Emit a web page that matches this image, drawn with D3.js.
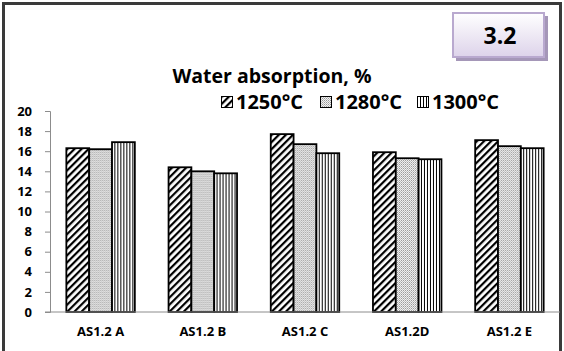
<!DOCTYPE html>
<html>
<head>
<meta charset="utf-8">
<script src="https://cdn.jsdelivr.net/npm/d3@7"></script>
<style>
  html, body { margin: 0; padding: 0; background: #fff; }
  svg { display: block; }
  text { font-family: "Open Sans", "Liberation Sans", sans-serif; font-weight: bold; fill: #000; }
</style>
</head>
<body>
<svg id="chart" width="564" height="351"></svg>
<script>
// Water absorption (%) of each sample, fired at three temperatures
const categories = ["AS1.2 A", "AS1.2 B", "AS1.2 C", "AS1.2D", "AS1.2 E"];
const seriesNames = ["1250°C", "1280°C", "1300°C"];
const values1250 = [16.3, 14.4, 17.7, 15.9, 17.1];
const values1280 = [16.2, 14.0, 16.7, 15.3, 16.5];
const values1300 = [16.9, 13.8, 15.8, 15.2, 16.3];
const yTicks = [0, 2, 4, 6, 8, 10, 12, 14, 16, 18, 20];
const chartTitle = "Water absorption, %";
const badgeText = "3.2";

const seriesValues = [values1250, values1280, values1300];
const svg = d3.select("#chart");
const defs = svg.append("defs");

// Fill patterns: diagonal hatch, fine dots, vertical stripes
const pHatch = defs.append("pattern").attr("id", "p0").attr("patternUnits", "userSpaceOnUse")
  .attr("width", 5).attr("height", 5).attr("patternTransform", "rotate(45)");
pHatch.append("rect").attr("width", 5).attr("height", 5).attr("fill", "#fff");
pHatch.append("rect").attr("width", 2.2).attr("height", 5).attr("fill", "#000");

const pDots = defs.append("pattern").attr("id", "p1").attr("patternUnits", "userSpaceOnUse")
  .attr("width", 2).attr("height", 2);
pDots.append("rect").attr("width", 2).attr("height", 2).attr("fill", "#f2f2f2");
pDots.append("rect").attr("width", 1).attr("height", 1).attr("fill", "#9a9a9a");
pDots.append("rect").attr("x", 1).attr("y", 1).attr("width", 1).attr("height", 1).attr("fill", "#bdbdbd");

const pStripes = defs.append("pattern").attr("id", "p2").attr("patternUnits", "userSpaceOnUse")
  .attr("width", 3).attr("height", 3);
pStripes.append("rect").attr("width", 3).attr("height", 3).attr("fill", "#fff");
pStripes.append("rect").attr("width", 1).attr("height", 3).attr("fill", "#000");

const badgeGrad = defs.append("linearGradient").attr("id", "badgeGrad")
  .attr("x1", 0).attr("y1", 0).attr("x2", 0).attr("y2", 1);
badgeGrad.append("stop").attr("offset", "0%").attr("stop-color", "#ffffff");
badgeGrad.append("stop").attr("offset", "100%").attr("stop-color", "#ddd3ea");

// Outer frame
svg.append("rect").attr("x", 3.5).attr("y", 3.5).attr("width", 557).attr("height", 360)
  .attr("fill", "none").attr("stroke", "#3a3a3a").attr("stroke-width", 3);

// Badge with drop shadow
svg.append("rect").attr("x", 456).attr("y", 16).attr("width", 92).attr("height", 45).attr("fill", "#a597b8");
svg.append("rect").attr("x", 453).attr("y", 13).attr("width", 91).attr("height", 44)
  .attr("fill", "url(#badgeGrad)").attr("stroke", "#b9a9cf").attr("stroke-width", 2);
svg.append("text").attr("x", 500).attr("y", 44).attr("text-anchor", "middle")
  .style("font-size", "23px").attr("fill", "#222").text(badgeText);

// Title
svg.append("text").attr("x", 272).attr("y", 83).attr("text-anchor", "middle")
  .style("font-size", "19.5px").text(chartTitle);

// Scales
const plot = { left: 50, right: 560, top: 111, bottom: 312 };
const x0 = d3.scaleBand().domain(categories).range([plot.left, plot.right])
  .paddingInner(0.33).paddingOuter(0.16);
const x1 = d3.scaleBand().domain(seriesNames).range([0, x0.bandwidth()]);
const y = d3.scaleLinear().domain([0, 20]).range([plot.bottom, plot.top]);

// Y axis
const yAxis = svg.append("g").attr("transform", `translate(${plot.left},0)`)
  .call(d3.axisLeft(y).tickValues(yTicks).tickSize(5).tickPadding(13));
yAxis.select(".domain").attr("stroke", "#8c8c8c");
yAxis.selectAll(".tick line").attr("stroke", "#8c8c8c");
yAxis.selectAll(".tick text").style("font-size", "13px").style("font-family", "\"Open Sans\", sans-serif")
  .style("font-weight", "bold").attr("fill", "#000");

// Bars
const groups = svg.append("g").selectAll("g").data(categories).join("g")
  .attr("transform", d => `translate(${x0(d)},0)`);
groups.selectAll("rect")
  .data((c, ci) => seriesNames.map((s, si) => ({ s, si, v: seriesValues[si][ci] })))
  .join("rect")
  .attr("x", d => x1(d.s))
  .attr("y", d => y(d.v))
  .attr("width", x1.bandwidth())
  .attr("height", d => y(0) - y(d.v))
  .attr("fill", d => `url(#p${d.si})`)
  .attr("stroke", "#000").attr("stroke-width", 1.8);

// X baseline and category labels
svg.append("line").attr("x1", plot.left - 5).attr("x2", plot.right)
  .attr("y1", y(0)).attr("y2", y(0)).attr("stroke", "#8c8c8c");
svg.append("g").selectAll("text").data(categories).join("text")
  .attr("x", d => x0(d) + x0.bandwidth() / 2).attr("y", 336)
  .attr("text-anchor", "middle").style("font-size", "13px").text(d => d);

// Legend
const legendX = [221, 320, 417];
const legend = svg.append("g").selectAll("g").data(seriesNames).join("g")
  .attr("transform", (d, i) => `translate(${legendX[i]},96)`);
legend.append("rect").attr("x", 0.5).attr("y", 0.5).attr("width", 11).attr("height", 11)
  .attr("fill", (d, i) => `url(#p${i})`).attr("stroke", "#000").attr("stroke-width", 1);
legend.append("text").attr("x", 15).attr("y", 13).style("font-size", "20px").text(d => d);
</script>
</body>
</html>
